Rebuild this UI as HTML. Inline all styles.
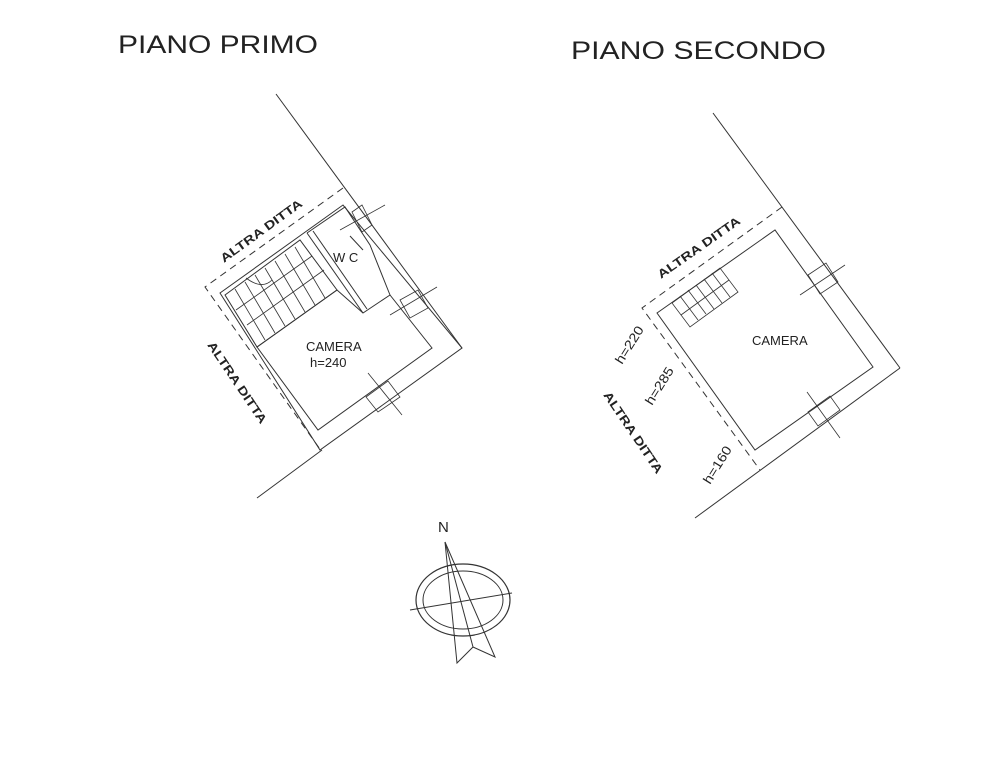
<!DOCTYPE html>
<html><head><meta charset="utf-8"><style>
html,body{margin:0;padding:0;background:#fff}
svg{display:block}
text{font-family:"Liberation Sans",sans-serif;fill:#222}
</style></head><body>
<svg width="1000" height="775" viewBox="0 0 1000 775" xmlns="http://www.w3.org/2000/svg">
<g stroke="#333" stroke-width="1" fill="none">
<!-- PIANO PRIMO -->
<line x1="276" y1="94" x2="462" y2="348"/>
<line x1="257" y1="498" x2="322" y2="450"/>
<polyline points="343,188 205,287 322,452" stroke-dasharray="7,5"/>
<polygon points="220,293 343,205 462,348 320,450"/>
<polygon points="257,347 337,290 363,313 390,295 432,348 318,430"/>
<polyline points="307,233 345,207 370,245 390,295"/>
<line x1="307" y1="233" x2="363" y2="313"/>
<line x1="313" y1="231" x2="367" y2="309"/>
<line x1="350" y1="236" x2="363" y2="250"/>
<polygon points="225,295 300,240 337,290 257,347"/>
<g stroke-width="0.8">
<line x1="236" y1="310" x2="312" y2="256"/>
<line x1="247" y1="325" x2="324" y2="270"/>
<line x1="235" y1="289" x2="265" y2="340"/>
<line x1="245" y1="282" x2="275" y2="333"/>
<line x1="255" y1="275" x2="285" y2="326"/>
<line x1="265" y1="268" x2="295" y2="319"/>
<line x1="275" y1="261" x2="305" y2="312"/>
<line x1="285" y1="254" x2="315" y2="305"/>
<line x1="295" y1="247" x2="325" y2="298"/>
<path d="M246,278 Q262,290 272,280"/>
</g>
<g stroke-width="0.8">
<line x1="340" y1="230" x2="385" y2="205"/>
<polygon points="352,212 362,205 372,225 362,232"/>
<line x1="390" y1="315" x2="437" y2="287"/>
<polygon points="400,300 418,290 428,308 410,318"/>
<line x1="368" y1="373" x2="402" y2="415"/>
<polygon points="366,397 388,381 400,397 378,412"/>
</g>
<!-- PIANO SECONDO -->
<line x1="713" y1="113" x2="900" y2="368"/>
<line x1="695" y1="518" x2="900" y2="368"/>
<polyline points="782,207 642,308 760,470" stroke-dasharray="7,5"/>
<polygon points="657,313 775,230 873,367 755,450"/>
<g stroke-width="0.8">
<polygon points="672,303 720,268 738,292 690,327"/>
<line x1="681" y1="315" x2="729" y2="280"/>
<line x1="680" y1="296" x2="698" y2="320"/>
<line x1="688" y1="290" x2="706" y2="314"/>
<line x1="696" y1="285" x2="714" y2="309"/>
<line x1="704" y1="279" x2="722" y2="303"/>
<line x1="712" y1="273" x2="730" y2="297"/>
<line x1="800" y1="295" x2="845" y2="265"/>
<polygon points="808,275 826,263 838,282 820,294"/>
<line x1="807" y1="392" x2="840" y2="438"/>
<polygon points="808,412 830,396 840,410 818,426"/>
</g>
<!-- compass -->
<ellipse cx="463" cy="600" rx="47" ry="36" stroke-width="1.2"/>
<ellipse cx="463" cy="600" rx="40" ry="29"/>
<line x1="410" y1="610" x2="512" y2="593"/>
<polyline points="445,542 457,663 473,647 495,657 445,542"/>
<line x1="445" y1="542" x2="473" y2="647"/>
</g>
<text x="118" y="53" font-size="25" textLength="200" lengthAdjust="spacingAndGlyphs">PIANO PRIMO</text>
<text x="571" y="59" font-size="25" textLength="255" lengthAdjust="spacingAndGlyphs">PIANO SECONDO</text>
<text x="438" y="532" font-size="15">N</text>
<g font-size="12" font-weight="bold">
<text transform="translate(224,263) rotate(-36)" textLength="98" lengthAdjust="spacingAndGlyphs">ALTRA DITTA</text>
<text transform="translate(207,345) rotate(56)" textLength="96" lengthAdjust="spacingAndGlyphs">ALTRA DITTA</text>
<text transform="translate(661,279) rotate(-35)" textLength="98" lengthAdjust="spacingAndGlyphs">ALTRA DITTA</text>
<text transform="translate(603,395) rotate(56)" textLength="96" lengthAdjust="spacingAndGlyphs">ALTRA DITTA</text>
</g>
<g font-size="13">
<text x="333" y="262">W C</text>
<text x="306" y="351">CAMERA</text>
<text x="310" y="367">h=240</text>
<text x="752" y="345">CAMERA</text>
<text transform="translate(622,365) rotate(-58)" textLength="42" lengthAdjust="spacingAndGlyphs">h=220</text>
<text transform="translate(652,406) rotate(-58)" textLength="42" lengthAdjust="spacingAndGlyphs">h=285</text>
<text transform="translate(710,485) rotate(-58)" textLength="42" lengthAdjust="spacingAndGlyphs">h=160</text>
</g>
</svg>
</body></html>
